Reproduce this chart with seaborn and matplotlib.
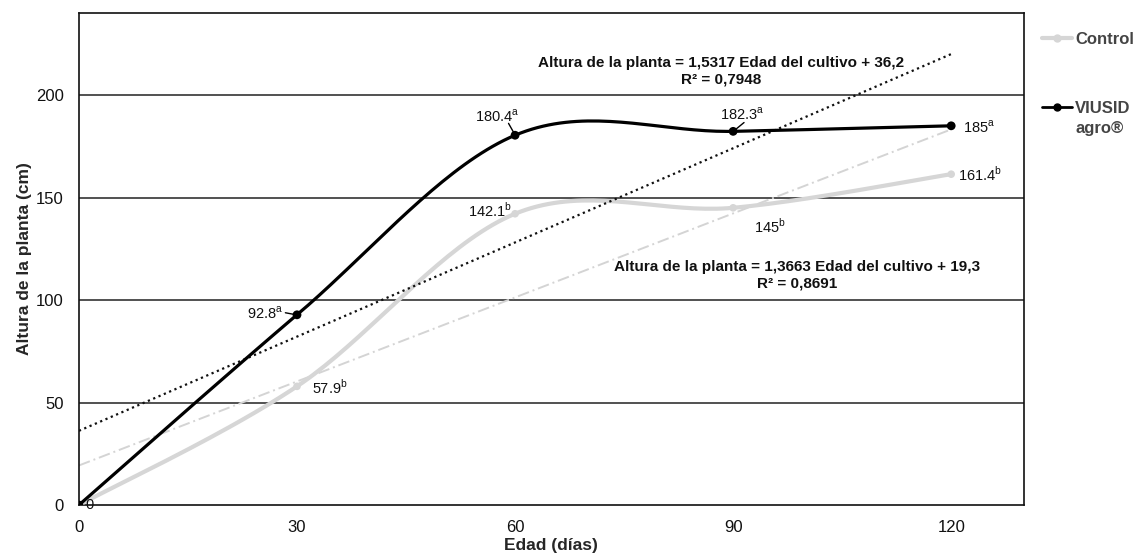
import numpy as np
import matplotlib.pyplot as plt
import seaborn as sns
from matplotlib.lines import Line2D

# Data
edad = [0, 30, 60, 90, 120]
control = [0, 57.9, 142.1, 145, 161.4]
viusid = [0, 92.8, 180.4, 182.3, 185]
letras_control = ["", "b", "b", "b", "b"]
letras_viusid = ["", "a", "a", "a", "a"]
tend_viusid = (1.5317, 36.2, 0.7948)
tend_control = (1.3663, 19.3, 0.8691)


def suavizar(x, y, n=40):
    # Excel-like smoothed line (Catmull-Rom through the points)
    p = np.column_stack([x, y]).astype(float)
    p = np.vstack([p[0], p, p[-1]])
    t = np.linspace(0, 1, n)
    out = []
    for i in range(1, len(p) - 2):
        p0, p1, p2, p3 = p[i - 1], p[i], p[i + 1], p[i + 2]
        c1 = p1 + (p2 - p0) / 6
        c2 = p2 - (p3 - p1) / 6
        seg = ((1 - t) ** 3)[:, None] * p1 + (3 * (1 - t) ** 2 * t)[:, None] * c1 \
            + (3 * (1 - t) * t ** 2)[:, None] * c2 + (t ** 3)[:, None] * p2
        out.append(seg if i == 1 else seg[1:])
    s = np.vstack(out)
    return s[:, 0], s[:, 1]


def coma(v):
    return str(v).replace(".", ",")


sns.set_style("white")
plt.rcParams["font.family"] = ["Liberation Sans", "DejaVu Sans"]
plt.rcParams["mathtext.fontset"] = "custom"
plt.rcParams["mathtext.rm"] = "Liberation Sans"

fig = plt.figure(figsize=(11.44, 5.54), dpi=100)
ax = fig.add_axes([0.069, 0.0884, 0.826, 0.888])

gris = "#d6d6d6"

# gridlines
for v in [50, 100, 150, 200]:
    ax.axhline(v, color="#333333", lw=1.2, zorder=1)

# trend lines
xt = np.array([0, 120])
sns.lineplot(x=xt, y=tend_control[0] * xt + tend_control[1], ax=ax, color="#d4d4d4",
             lw=1.4, linestyle=(0, (6, 2, 1, 2)), zorder=2)
sns.lineplot(x=xt, y=tend_viusid[0] * xt + tend_viusid[1], ax=ax, color="#111111",
             lw=1.6, linestyle=(0, (1, 1.6)), zorder=4)

# smoothed series
cx, cy = suavizar(edad, control)
sns.lineplot(x=cx, y=cy, ax=ax, color=gris, lw=3, sort=False, zorder=3)
sns.scatterplot(x=edad, y=control, ax=ax, color=gris, s=30, edgecolor="none", zorder=3)
vx, vy = suavizar(edad, viusid)
sns.lineplot(x=vx, y=vy, ax=ax, color="black", lw=2.3, sort=False, zorder=5)
sns.scatterplot(x=edad, y=viusid, ax=ax, color="black", s=40, edgecolor="none", zorder=6)

fs = 10.5


def etiqueta(x, y, val, letra, ha="center"):
    txt = f"{val:g}" + (f"$^{{\\mathrm{{{letra}}}}}$" if letra else "")
    ax.text(x, y, txt, ha=ha, va="center", fontsize=fs, color="#111111", zorder=7)


etiqueta(0.9, 0, 0, "", ha="left")
etiqueta(25.6, 93.5, viusid[1], letras_viusid[1])
ax.plot([28.4, 29.6], [93.8, 93.0], color="black", lw=1)
etiqueta(57.6, 189.5, viusid[2], letras_viusid[2])
ax.plot([59.1, 59.8], [186.2, 181.8], color="black", lw=1)
etiqueta(91.2, 190.5, viusid[3], letras_viusid[3])
ax.plot([91.5, 90.4], [186.6, 183.4], color="black", lw=1)
etiqueta(121.6, 184.5, viusid[4], letras_viusid[4], ha="left")
etiqueta(34.5, 57.5, control[1], letras_control[1])
etiqueta(56.6, 143.5, control[2], letras_control[2])
etiqueta(95.0, 136.0, control[3], letras_control[3])
etiqueta(120.9, 161.5, control[4], letras_control[4], ha="left")

eq = dict(ha="center", va="center", fontsize=11, fontweight="bold", color="#111111",
          multialignment="center", linespacing=1.25, zorder=7)
ax.text(88.4, 211.5, f"Altura de la planta = {coma(tend_viusid[0])} Edad del cultivo + "
        f"{coma(tend_viusid[1])}\nR² = {coma(tend_viusid[2])}", **eq)
ax.text(98.8, 112.2, f"Altura de la planta = {coma(tend_control[0])} Edad del cultivo + "
        f"{coma(tend_control[1])}\nR² = {coma(tend_control[2])}", **eq)

ax.set_xlim(0, 130)
ax.set_ylim(0, 240)
ax.set_xticks(edad)
ax.set_yticks([0, 50, 100, 150, 200])
ax.tick_params(length=0, labelsize=12, colors="#111111")
ax.tick_params(axis="x", pad=11)
ax.tick_params(axis="y", pad=11)
for s in ax.spines.values():
    s.set_color("#111111")
    s.set_linewidth(1.2)
ax.set_xlabel("Edad (días)", fontsize=12.5, fontweight="bold", labelpad=2)
ax.set_ylabel("Altura de la planta (cm)", fontsize=12.5, fontweight="bold", labelpad=3)

handles = [Line2D([], [], color=gris, lw=3, marker="o", ms=5),
           Line2D([], [], color="black", lw=2, marker="o", ms=5)]
fig.legend(handles, ["Control", "VIUSID"], loc="upper left",
           bbox_to_anchor=(0.905, 0.955), frameon=False, handlelength=1.8,
           handletextpad=0.2, labelspacing=3.25, borderaxespad=0,
           prop={"weight": "bold", "size": 12})
for t in fig.legends[0].get_texts():
    t.set_color("#444444")
fig.text(0.9405, 1 - 129 / 554, "agro®", ha="left", va="center", fontsize=12,
         fontweight="bold", color="#444444")

fig.savefig("out.png", dpi=100)
